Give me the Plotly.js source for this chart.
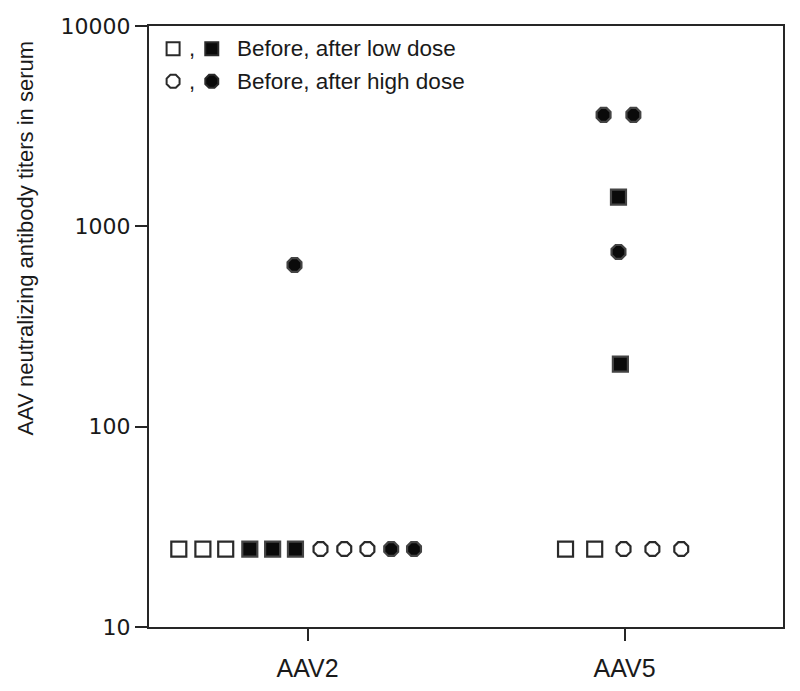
<!DOCTYPE html>
<html>
<head>
<meta charset="utf-8">
<script src="https://cdn.plot.ly/plotly-3.0.1.min.js"></script>
<style>html,body{margin:0;padding:0;background:#fff;}#chart{width:800px;height:691px;}</style>
</head>
<body>
<div id="chart"></div>
<script>
// Categories (x positions 1 and 2) and tick labels
const categories = ['AAV2', 'AAV5'];
const categoryPos = [1, 2];
const yTickVals = [10, 100, 1000, 10000];
const yTickText = ['10', '100', '1000', '10000'];

// Dot-plot strip positions (category + jitter) and titers
const lowBeforeX  = [0.594, 0.670, 0.742, 1.814, 1.906];
const lowBeforeY  = [24.5, 24.5, 24.5, 24.5, 24.5];
const lowAfterX   = [0.818, 0.890, 0.962, 1.981, 1.987];
const lowAfterY   = [24.5, 24.5, 24.5, 1400, 205];
const highBeforeX = [1.041, 1.116, 1.189, 1.997, 2.088, 2.179];
const highBeforeY = [24.5, 24.5, 24.5, 24.5, 24.5, 24.5];
const highAfterX  = [1.264, 1.336, 0.959, 1.934, 2.028, 1.981];
const highAfterY  = [24.5, 24.5, 641, 3600, 3600, 745];

const legendLines = ['Before, after low dose', 'Before, after high dose'];
const yTitle = 'AAV neutralizing antibody titers in serum';

const openMk = (sym) => ({symbol: sym, size: 15, color: '#ffffff', line: {color: '#2a2a2a', width: 2.2}});
const fillMk = (sym) => ({symbol: sym, size: 15, color: '#0a0a0a', line: {color: '#444444', width: 2.2}});

const traces = [
  {x: lowBeforeX, y: lowBeforeY, type: 'scatter', mode: 'markers', marker: openMk('square'), showlegend: false},
  {x: lowAfterX, y: lowAfterY, type: 'scatter', mode: 'markers', marker: fillMk('square'), showlegend: false},
  {x: highBeforeX, y: highBeforeY, type: 'scatter', mode: 'markers', marker: openMk('octagon'), showlegend: false},
  {x: highAfterX, y: highAfterY, type: 'scatter', mode: 'markers', marker: fillMk('octagon'), showlegend: false},
  // legend keys drawn on an overlay axis in plot-fraction units
  {x: [0.038, 0.099], y: [0.962, 0.962], xaxis: 'x2', yaxis: 'y2', type: 'scatter', mode: 'markers',
   marker: {symbol: 'square', size: 13, color: ['#ffffff', '#0a0a0a'], line: {color: '#2a2a2a', width: 2}}, showlegend: false},
  {x: [0.038, 0.099], y: [0.908, 0.908], xaxis: 'x2', yaxis: 'y2', type: 'scatter', mode: 'markers',
   marker: {symbol: 'octagon', size: 14, color: ['#ffffff', '#0a0a0a'], line: {color: '#2a2a2a', width: 2}}, showlegend: false}
];

const layout = {
  width: 800, height: 691,
  margin: {l: 149, r: 17, t: 26, b: 64},
  paper_bgcolor: '#ffffff', plot_bgcolor: '#ffffff',
  font: {family: 'Liberation Sans, Arial, sans-serif', color: '#1a1a1a'},
  xaxis: {
    range: [0.5, 2.5], tickvals: categoryPos, ticktext: categories,
    showgrid: false, zeroline: false, showline: true, mirror: true,
    linecolor: '#262626', linewidth: 2.2, ticks: 'outside', ticklen: 12, tickwidth: 2, tickcolor: '#262626',
    ticklabelstandoff: 6,
    tickfont: {family: 'Liberation Sans, Arial, sans-serif', size: 25, color: '#1a1a1a'}
  },
  yaxis: {
    type: 'log', range: [1, 4], tickvals: yTickVals, ticktext: yTickText,
    showgrid: false, zeroline: false, showline: true, mirror: true,
    linecolor: '#262626', linewidth: 2.2, ticks: 'outside', ticklen: 12, tickwidth: 2, tickcolor: '#262626',
    tickfont: {family: 'DejaVu Sans, sans-serif', size: 22, color: '#1a1a1a'}
  },
  xaxis2: {overlaying: 'x', range: [0, 1], visible: false, fixedrange: true},
  yaxis2: {overlaying: 'y', range: [0, 1], visible: false, fixedrange: true},
  annotations: [
    {xref: 'paper', yref: 'paper', x: -0.195, y: 0.647, text: yTitle, textangle: -90, showarrow: false,
     xanchor: 'center', yanchor: 'middle', font: {size: 22, color: '#1a1a1a'}},
    {xref: 'paper', yref: 'paper', x: 0.068, y: 0.962, text: ',', showarrow: false, xanchor: 'center', yanchor: 'middle',
     font: {size: 22, color: '#1a1a1a'}},
    {xref: 'paper', yref: 'paper', x: 0.068, y: 0.908, text: ',', showarrow: false, xanchor: 'center', yanchor: 'middle',
     font: {size: 22, color: '#1a1a1a'}},
    {xref: 'paper', yref: 'paper', x: 0.135, y: 0.962, text: legendLines[0], showarrow: false, xanchor: 'left', yanchor: 'middle',
     font: {size: 22.5, color: '#1a1a1a'}},
    {xref: 'paper', yref: 'paper', x: 0.135, y: 0.908, text: legendLines[1], showarrow: false, xanchor: 'left', yanchor: 'middle',
     font: {size: 22.5, color: '#1a1a1a'}}
  ]
};

Plotly.newPlot('chart', traces, layout, {displayModeBar: false, staticPlot: true});
</script>
</body>
</html>
